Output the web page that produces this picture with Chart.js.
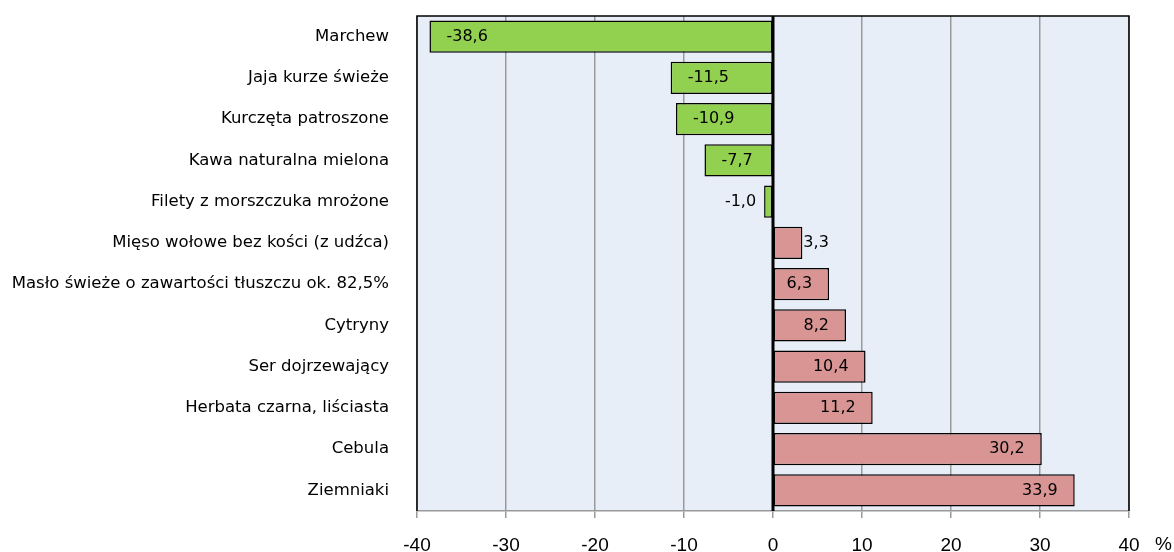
<!DOCTYPE html>
<html>
<head>
<meta charset="utf-8">
<script src="https://cdn.jsdelivr.net/npm/chart.js@4"></script>
<style>
  html, body { margin: 0; padding: 0; background: #ffffff; }
  #wrap { width: 1174px; height: 552px; }
</style>
</head>
<body>
<div id="wrap"><canvas id="chart" width="1174" height="552"></canvas></div>
<script>
const categories = [
  "Marchew",
  "Jaja kurze świeże",
  "Kurczęta patroszone",
  "Kawa naturalna mielona",
  "Filety z morszczuka mrożone",
  "Mięso wołowe bez kości (z udźca)",
  "Masło świeże o zawartości tłuszczu ok. 82,5%",
  "Cytryny",
  "Ser dojrzewający",
  "Herbata czarna, liściasta",
  "Cebula",
  "Ziemniaki"
];
const changes = [-38.6, -11.5, -10.9, -7.7, -1.0, 3.3, 6.3, 8.2, 10.4, 11.2, 30.2, 33.9];
const xTicks = [-40, -30, -20, -10, 0, 10, 20, 30, 40];
const unitLabel = "%";

const LABEL_FONT = "'DejaVu Sans', sans-serif";
const TICK_FONT = "Arial, 'Liberation Sans', sans-serif";

// labels on the bars, frame, zero line, unit
const overlay = {
  id: 'overlay',
  afterDatasetsDraw(chart) {
    const ctx = chart.ctx;
    const area = chart.chartArea;
    const x = chart.scales.x;
    ctx.save();
    // zero line
    ctx.strokeStyle = '#000000';
    ctx.lineWidth = 3;
    ctx.beginPath();
    ctx.moveTo(x.getPixelForValue(0), area.top);
    ctx.lineTo(x.getPixelForValue(0), area.bottom);
    ctx.stroke();
    // frame: left, top, right black
    ctx.lineWidth = 1.5;
    ctx.beginPath();
    ctx.moveTo(area.left, area.bottom);
    ctx.lineTo(area.left, area.top);
    ctx.lineTo(area.right, area.top);
    ctx.lineTo(area.right, area.bottom);
    ctx.stroke();

    // value labels
    ctx.font = '16px ' + LABEL_FONT;
    ctx.fillStyle = '#000000';
    ctx.textBaseline = 'middle';
    const meta = chart.getDatasetMeta(0);
    meta.data.forEach((bar, i) => {
      const v = changes[i];
      const txt = v.toFixed(1).replace('.', ',');
      const len = Math.abs(bar.x - bar.base);
      if (v < 0) {
        if (len < 40) {
          ctx.textAlign = 'right';
          ctx.fillText(txt, bar.x - 8, bar.y);
        } else {
          ctx.textAlign = 'left';
          ctx.fillText(txt, bar.x + 17, bar.y);
        }
      } else {
        if (len < 40) {
          ctx.textAlign = 'left';
          ctx.fillText(txt, bar.x + 1, bar.y);
        } else {
          ctx.textAlign = 'right';
          ctx.fillText(txt, bar.x - 17, bar.y);
        }
      }
    });

    ctx.font = '19px ' + TICK_FONT;
    ctx.textAlign = 'left';
    ctx.fillText(unitLabel, 1155, 545);
    ctx.restore();
  }
};

const plotBg = {
  id: 'plotBg',
  beforeDraw(chart) {
    const a = chart.chartArea;
    chart.ctx.save();
    chart.ctx.fillStyle = '#E8EEF7';
    chart.ctx.fillRect(a.left, a.top, a.right - a.left, a.bottom - a.top);
    chart.ctx.restore();
  }
};

new Chart(document.getElementById('chart'), {
  type: 'bar',
  data: {
    labels: categories,
    datasets: [{
      data: changes,
      backgroundColor: changes.map(v => v < 0 ? '#92D050' : '#D99594'),
      borderColor: '#000000',
      borderWidth: 1.5,
      borderSkipped: false,
      barPercentage: 0.78,
      categoryPercentage: 1.0
    }]
  },
  options: {
    indexAxis: 'y',
    responsive: false,
    animation: false,
    layout: { padding: { left: 0, right: 45, top: 16, bottom: 0 } },
    plugins: {
      legend: { display: false },
      tooltip: { enabled: false }
    },
    scales: {
      x: {
        min: -40,
        max: 40,
        afterBuildTicks(scale) { scale.ticks = xTicks.map(v => ({ value: v })); },
        afterFit(scale) { scale.height = 41; scale.paddingLeft = 0; scale.paddingRight = 0; },
        grid: {
          color: '#999999',
          lineWidth: 1.5,
          drawTicks: true,
          tickLength: 7,
          tickColor: '#999999'
        },
        border: { display: true, color: '#999999', width: 1.5 },
        ticks: {
          color: '#000000',
          padding: 16,
          font: { family: TICK_FONT, size: 19 },
          callback: (v) => String(v)
        }
      },
      y: {
        afterFit(scale) { scale.width = 417; scale.paddingTop = 0; scale.paddingBottom = 0; },
        grid: { display: false },
        border: { display: false },
        ticks: {
          color: '#000000',
          padding: 20,
          font: { family: LABEL_FONT, size: 16.5 }
        }
      }
    }
  },
  plugins: [plotBg, overlay]
});
</script>
</body>
</html>
